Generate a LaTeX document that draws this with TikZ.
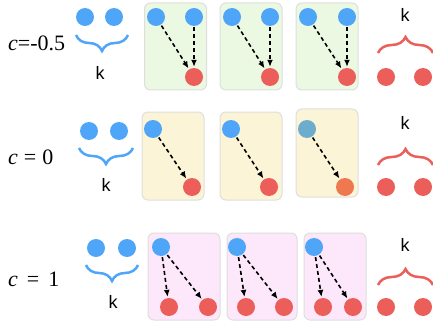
\documentclass[tikz,border=0pt]{standalone}
\usepackage{fontspec}
\newfontfamily\kfont{Liberation Sans}
\newfontfamily\cfont{Liberation Serif}
\usetikzlibrary{positioning}
\usetikzlibrary{arrows.meta}
\usetikzlibrary{decorations.pathreplacing}
\definecolor{dotblue}{RGB}{79,166,248}
\definecolor{dotred}{RGB}{236,94,89}
\definecolor{dotsteel}{RGB}{108,172,204}
\definecolor{dotorange}{RGB}{238,120,80}
\definecolor{boxgreen}{RGB}{236,249,226}
\definecolor{boxyellow}{RGB}{251,244,214}
\definecolor{boxpink}{RGB}{252,232,250}
\definecolor{boxline}{RGB}{222,222,222}
\tikzset{
    bdot/.style = {circle, fill=dotblue, minimum size=18pt, inner sep=0pt},
    rdot/.style = {circle, fill=dotred, minimum size=18pt, inner sep=0pt},
    sdot/.style = {circle, fill=dotsteel, minimum size=18pt, inner sep=0pt},
    odot/.style = {circle, fill=dotorange, minimum size=18pt, inner sep=0pt},
    panel/.style = {rectangle, draw=boxline, line width=1pt, rounded corners=6pt, minimum width=62pt, minimum height=87pt},
    edged/.style = {-{Latex[length=7pt,width=6pt]}, line width=1.6pt, dash pattern=on 4pt off 3pt, shorten <=1pt, shorten >=1pt},
    bbrace/.style = {decorate, decoration={brace,amplitude=16pt}, draw=dotblue, line width=2.5pt},
    rbrace/.style = {decorate, decoration={brace,amplitude=16pt}, draw=dotred, line width=2.5pt},
    klabel/.style = {font=\kfont\fontsize{18}{18}\selectfont},
    clabel/.style = {font=\cfont\fontsize{22}{22}\selectfont, anchor=west, inner sep=0pt},
}
\begin{document}
\begin{tikzpicture}[x=1pt,y=-1pt]
\useasboundingbox (0,0) rectangle (433,326);
%
% row c=-0.5
\node[clabel] at (8,43) (c1) {\textit{c}=-0.5};
\node[bdot] at (85,17) (u1) {};
\node[bdot] at (114,17) (v1) {};
\draw[bbrace] (128,35) -- (76,35);
\node[klabel] at (100,73) (k1) {k};
\node[panel,fill=boxgreen] at (175.5,46.5) (g1) {};
\node[panel,fill=boxgreen] at (251,46.5) (g2) {};
\node[panel,fill=boxgreen] at (327,46.5) (g3) {};
\node[bdot] at (156,17) (a1) {};
\node[bdot] at (194,17) (b1) {};
\node[rdot] at (194,77) (r1) {};
\node[bdot] at (232,17) (a2) {};
\node[bdot] at (270,17) (b2) {};
\node[rdot] at (270,77) (r2) {};
\node[bdot] at (308,17) (a3) {};
\node[bdot] at (347,17) (b3) {};
\node[rdot] at (347,77) (r3) {};
\draw[edged] (a1) edge node {} (r1);
\draw[edged] (b1) edge node {} (r1);
\draw[edged] (a2) edge node {} (r2);
\draw[edged] (b2) edge node {} (r2);
\draw[edged] (a3) edge node {} (r3);
\draw[edged] (b3) edge node {} (r3);
\node[klabel] at (405,15) (k2) {k};
\draw[rbrace] (378,53) -- (433,53);
\node[rdot] at (386,77) (x1) {};
\node[rdot] at (423,77) (y1) {};
%
% row c=0
\node[clabel] at (8,157) (c2) {\textit{c}\hspace{6pt}=\hspace{6pt}0};
\node[bdot] at (89,131) (u2) {};
\node[bdot] at (119,131) (v2) {};
\draw[bbrace] (133,148) -- (79,148);
\node[klabel] at (106,185) (k3) {k};
\node[panel,fill=boxyellow,minimum height=88pt] at (173,156) (y1b) {};
\node[panel,fill=boxyellow,minimum height=88pt] at (251,156) (y2b) {};
\node[panel,fill=boxyellow,minimum height=88pt] at (327,153) (y3b) {};
\node[bdot] at (153,129) (a4) {};
\node[rdot] at (192,187) (r4) {};
\node[bdot] at (231,129) (a5) {};
\node[rdot] at (269,187) (r5) {};
\node[sdot] at (307,129) (a6) {};
\node[odot] at (345,187) (r6) {};
\draw[edged] (a4) edge node {} (r4);
\draw[edged] (a5) edge node {} (r5);
\draw[edged] (a6) edge node {} (r6);
\node[klabel] at (405,123) (k4) {k};
\draw[rbrace] (378,165) -- (433,165);
\node[rdot] at (386,187) (x2) {};
\node[rdot] at (423,187) (y2) {};
%
% row c=1
\node[clabel] at (8,279) (c3) {\textit{c}\hspace{9pt}=\hspace{9pt}1};
\node[bdot] at (96,248) (u3) {};
\node[bdot] at (127,248) (v3) {};
\draw[bbrace] (138,265) -- (86,265);
\node[klabel] at (113,302) (k5) {k};
\node[panel,fill=boxpink,minimum width=72pt] at (184,276.5) (p1) {};
\node[panel,fill=boxpink,minimum width=70pt] at (262,276.5) (p2) {};
\node[panel,fill=boxpink] at (335,276.5) (p3) {};
\node[bdot] at (161,247) (a7) {};
\node[rdot] at (169,307) (r7) {};
\node[rdot] at (208,307) (s7) {};
\node[bdot] at (237,247) (a8) {};
\node[rdot] at (246,307) (r8) {};
\node[rdot] at (284,307) (s8) {};
\node[bdot] at (314,247) (a9) {};
\node[rdot] at (323,307) (r9) {};
\node[rdot] at (353,307) (s9) {};
\draw[edged] (a7) edge node {} (r7);
\draw[edged] (a7) edge node {} (s7);
\draw[edged] (a8) edge node {} (r8);
\draw[edged] (a8) edge node {} (s8);
\draw[edged] (a9) edge node {} (r9);
\draw[edged] (a9) edge node {} (s9);
\node[klabel] at (405,245) (k6) {k};
\draw[rbrace] (378,285) -- (433,285);
\node[rdot] at (386,307) (x3) {};
\node[rdot] at (423,307) (y3) {};

\end{tikzpicture}
\end{document}
